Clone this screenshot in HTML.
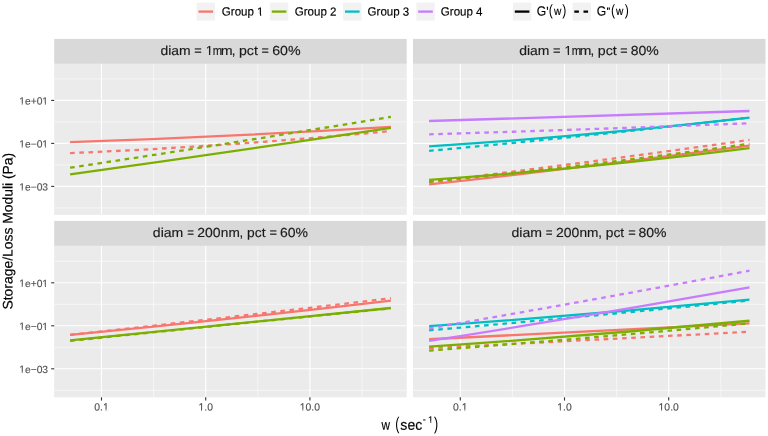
<!DOCTYPE html>
<html><head><meta charset="utf-8"><style>
html,body{margin:0;padding:0;background:#fff;width:768px;height:436px;overflow:hidden}
svg{display:block}
#wrap{will-change:transform;width:768px;height:436px;filter:blur(0.3px)}
text{font-family:"Liberation Sans", sans-serif}
</style></head><body><div id="wrap">
<svg width="768" height="436" viewBox="0 0 768 436" font-family='"Liberation Sans", sans-serif'>
<rect width="768" height="436" fill="#FFFFFF"/>
<rect x="196.6" y="2.6" width="18.4" height="18.0" fill="#F2F2F2"/>
<line x1="198.5" y1="11.6" x2="213.1" y2="11.6" stroke="#F8766D" stroke-width="2.3"/>
<clipPath id="c1_1" clipPathUnits="userSpaceOnUse"><rect x="-5.00" y="-24.00" width="53.36" height="22.40"/><rect x="-5.00" y="-24.00" width="41.57" height="36.00"/><rect x="43.29" y="-24.00" width="5.07" height="36.00"/><rect x="39.63" y="-24.00" width="1.21" height="36.00"/></clipPath>
<text transform="translate(221.82,15.60) rotate(0.05) scale(0.9640,1)" font-size="12.0" fill="#000" stroke="#000" stroke-width="0.15" clip-path="url(#c1_1)">Group 1</text>
<rect x="269.9" y="2.6" width="18.4" height="18.0" fill="#F2F2F2"/>
<line x1="271.79999999999995" y1="11.6" x2="286.4" y2="11.6" stroke="#7CAE00" stroke-width="2.3"/>
<text transform="translate(294.72,15.60) rotate(0.05) scale(0.9640,1)" font-size="12.0" fill="#000" stroke="#000" stroke-width="0.15">Group 2</text>
<rect x="343.1" y="2.6" width="18.4" height="18.0" fill="#F2F2F2"/>
<line x1="345.0" y1="11.6" x2="359.6" y2="11.6" stroke="#00BFC4" stroke-width="2.3"/>
<text transform="translate(367.57,15.60) rotate(0.05) scale(0.9640,1)" font-size="12.0" fill="#000" stroke="#000" stroke-width="0.15">Group 3</text>
<rect x="416.3" y="2.6" width="18.4" height="18.0" fill="#F2F2F2"/>
<line x1="418.2" y1="11.6" x2="432.8" y2="11.6" stroke="#C77CFF" stroke-width="2.3"/>
<text transform="translate(440.82,15.60) rotate(0.05) scale(0.9640,1)" font-size="12.0" fill="#000" stroke="#000" stroke-width="0.15">Group 4</text>
<rect x="512.9" y="2.6" width="18.4" height="18.0" fill="#F2F2F2"/>
<line x1="514.8" y1="11.6" x2="529.4" y2="11.6" stroke="#000" stroke-width="2.3"/>
<rect x="572.6" y="2.6" width="18.4" height="18.0" fill="#F2F2F2"/>
<line x1="574.3" y1="11.6" x2="588.9" y2="11.6" stroke="#000" stroke-width="2.3" stroke-dasharray="4.6 4.6"/>
<text transform="translate(536.69,15.45) rotate(0.05) scale(0.9200,1)" font-size="13.2" fill="#000" stroke="#000" stroke-width="0.15">G</text>
<text transform="translate(596.69,15.45) rotate(0.05) scale(0.9200,1)" font-size="13.2" fill="#000" stroke="#000" stroke-width="0.15">G</text>
<path d="M546.75,6.7 L548.15,6.7 L547.85,10.1 L547.05,10.1 Z" fill="#000"/>
<path d="M606.95,7.5 L608.2,7.5 L608.0,10.0 L607.15,10.0 Z M608.65,7.5 L609.9,7.5 L609.7,10.0 L608.85,10.0 Z" fill="#000"/>
<text transform="translate(548.87,15.27) rotate(0.05) scale(0.8000,1)" font-size="15.3" fill="#000" stroke="#000" stroke-width="0">(</text>
<text transform="translate(554.00,15.10) rotate(0.05) scale(0.8600,1)" font-size="11.8" fill="#000" stroke="#000" stroke-width="0.15">w</text>
<text transform="translate(562.18,15.27) rotate(0.05) scale(0.8000,1)" font-size="15.3" fill="#000" stroke="#000" stroke-width="0">)</text>
<text transform="translate(611.07,15.27) rotate(0.05) scale(0.8000,1)" font-size="15.3" fill="#000" stroke="#000" stroke-width="0">(</text>
<text transform="translate(616.00,15.10) rotate(0.05) scale(0.8600,1)" font-size="11.8" fill="#000" stroke="#000" stroke-width="0.15">w</text>
<text transform="translate(624.78,15.27) rotate(0.05) scale(0.8000,1)" font-size="15.3" fill="#000" stroke="#000" stroke-width="0">)</text>
<rect x="54.2" y="38.9" width="352.5" height="24.95" fill="#D9D9D9"/>
<text transform="translate(160.41,55.00) rotate(0.05) scale(1.0637,1)" font-size="13.1" fill="#1A1A1A" stroke="#1A1A1A" stroke-width="0.15">diam</text>
<text transform="translate(194.28,55.00) rotate(0.05) scale(0.9742,1)" font-size="13.1" fill="#1A1A1A" stroke="#1A1A1A" stroke-width="0.15">=</text>
<clipPath id="c1_2" clipPathUnits="userSpaceOnUse"><rect x="-5.00" y="-26.20" width="17.29" height="24.52"/><rect x="-5.00" y="-26.20" width="4.87" height="39.30"/><rect x="7.21" y="-26.20" width="5.08" height="39.30"/><rect x="3.21" y="-26.20" width="1.32" height="39.30"/></clipPath>
<text transform="translate(205.75,55.00) rotate(0.05) scale(1.0000,1)" font-size="13.1" fill="#1A1A1A" stroke="#1A1A1A" stroke-width="0.15" clip-path="url(#c1_2)">1</text>
<text transform="translate(212.86,55.00) rotate(0.05) scale(0.8498,1)" font-size="13.1" fill="#1A1A1A" stroke="#1A1A1A" stroke-width="0.15">m</text>
<text transform="translate(220.80,55.00) rotate(0.05) scale(1.0894,1)" font-size="13.1" fill="#1A1A1A" stroke="#1A1A1A" stroke-width="0.15">m</text>
<text transform="translate(231.82,55.00) rotate(0.05) scale(1.0000,1)" font-size="13.1" fill="#1A1A1A" stroke="#1A1A1A" stroke-width="0.15">,</text>
<text transform="translate(238.99,55.00) rotate(0.05) scale(1.0826,1)" font-size="13.1" fill="#1A1A1A" stroke="#1A1A1A" stroke-width="0.15">pct</text>
<text transform="translate(261.39,55.00) rotate(0.05) scale(0.9584,1)" font-size="13.1" fill="#1A1A1A" stroke="#1A1A1A" stroke-width="0.15">=</text>
<text transform="translate(272.18,55.00) rotate(0.05) scale(1.0842,1)" font-size="13.1" fill="#1A1A1A" stroke="#1A1A1A" stroke-width="0.15">60%</text>
<rect x="54.2" y="63.85" width="352.5" height="151.0" fill="#EBEBEB"/>
<svg x="54.2" y="63.85" width="352.5" height="151.0" overflow="hidden"><g transform="translate(-54.2,-63.85)">
<line x1="54.2" y1="78.90" x2="406.7" y2="78.90" stroke="#FFFFFF" stroke-width="0.55"/>
<line x1="54.2" y1="121.90" x2="406.7" y2="121.90" stroke="#FFFFFF" stroke-width="0.55"/>
<line x1="54.2" y1="164.90" x2="406.7" y2="164.90" stroke="#FFFFFF" stroke-width="0.55"/>
<line x1="54.2" y1="207.90" x2="406.7" y2="207.90" stroke="#FFFFFF" stroke-width="0.55"/>
<line x1="49.40" y1="63.85" x2="49.40" y2="214.85" stroke="#FFFFFF" stroke-width="0.55"/>
<line x1="153.60" y1="63.85" x2="153.60" y2="214.85" stroke="#FFFFFF" stroke-width="0.55"/>
<line x1="257.80" y1="63.85" x2="257.80" y2="214.85" stroke="#FFFFFF" stroke-width="0.55"/>
<line x1="362.00" y1="63.85" x2="362.00" y2="214.85" stroke="#FFFFFF" stroke-width="0.55"/>
<line x1="54.2" y1="100.40" x2="406.7" y2="100.40" stroke="#FFFFFF" stroke-width="1.1"/>
<line x1="54.2" y1="143.40" x2="406.7" y2="143.40" stroke="#FFFFFF" stroke-width="1.1"/>
<line x1="54.2" y1="186.40" x2="406.7" y2="186.40" stroke="#FFFFFF" stroke-width="1.1"/>
<line x1="101.50" y1="63.85" x2="101.50" y2="214.85" stroke="#FFFFFF" stroke-width="1.1"/>
<line x1="205.70" y1="63.85" x2="205.70" y2="214.85" stroke="#FFFFFF" stroke-width="1.1"/>
<line x1="309.90" y1="63.85" x2="309.90" y2="214.85" stroke="#FFFFFF" stroke-width="1.1"/>
<path d="M70.10,142.18 Q230.50,136.65 390.90,126.94" fill="none" stroke="#F8766D" stroke-width="2.3"/>
<path d="M70.10,153.09 Q230.50,146.33 390.90,130.98" fill="none" stroke="#F8766D" stroke-width="2.3" stroke-dasharray="4.6 4.6"/>
<path d="M70.10,174.39 Q230.50,151.92 390.90,127.81" fill="none" stroke="#7CAE00" stroke-width="2.3"/>
<path d="M70.10,167.71 Q230.50,143.57 390.90,116.79" fill="none" stroke="#7CAE00" stroke-width="2.3" stroke-dasharray="4.6 4.6"/>
</g></svg>
<rect x="413.0" y="38.9" width="352.5" height="24.95" fill="#D9D9D9"/>
<text transform="translate(519.21,55.00) rotate(0.05) scale(1.0637,1)" font-size="13.1" fill="#1A1A1A" stroke="#1A1A1A" stroke-width="0.15">diam</text>
<text transform="translate(553.08,55.00) rotate(0.05) scale(0.9742,1)" font-size="13.1" fill="#1A1A1A" stroke="#1A1A1A" stroke-width="0.15">=</text>
<clipPath id="c1_3" clipPathUnits="userSpaceOnUse"><rect x="-5.00" y="-26.20" width="17.29" height="24.52"/><rect x="-5.00" y="-26.20" width="4.87" height="39.30"/><rect x="7.21" y="-26.20" width="5.08" height="39.30"/><rect x="3.21" y="-26.20" width="1.32" height="39.30"/></clipPath>
<text transform="translate(564.55,55.00) rotate(0.05) scale(1.0000,1)" font-size="13.1" fill="#1A1A1A" stroke="#1A1A1A" stroke-width="0.15" clip-path="url(#c1_3)">1</text>
<text transform="translate(571.66,55.00) rotate(0.05) scale(0.8498,1)" font-size="13.1" fill="#1A1A1A" stroke="#1A1A1A" stroke-width="0.15">m</text>
<text transform="translate(579.60,55.00) rotate(0.05) scale(1.0894,1)" font-size="13.1" fill="#1A1A1A" stroke="#1A1A1A" stroke-width="0.15">m</text>
<text transform="translate(590.62,55.00) rotate(0.05) scale(1.0000,1)" font-size="13.1" fill="#1A1A1A" stroke="#1A1A1A" stroke-width="0.15">,</text>
<text transform="translate(597.79,55.00) rotate(0.05) scale(1.0826,1)" font-size="13.1" fill="#1A1A1A" stroke="#1A1A1A" stroke-width="0.15">pct</text>
<text transform="translate(620.19,55.00) rotate(0.05) scale(0.9584,1)" font-size="13.1" fill="#1A1A1A" stroke="#1A1A1A" stroke-width="0.15">=</text>
<text transform="translate(630.64,55.00) rotate(0.05) scale(1.0722,1)" font-size="13.1" fill="#1A1A1A" stroke="#1A1A1A" stroke-width="0.15">80%</text>
<rect x="413.0" y="63.85" width="352.5" height="151.0" fill="#EBEBEB"/>
<svg x="413.0" y="63.85" width="352.5" height="151.0" overflow="hidden"><g transform="translate(-413.0,-63.85)">
<line x1="413.0" y1="78.90" x2="765.5" y2="78.90" stroke="#FFFFFF" stroke-width="0.55"/>
<line x1="413.0" y1="121.90" x2="765.5" y2="121.90" stroke="#FFFFFF" stroke-width="0.55"/>
<line x1="413.0" y1="164.90" x2="765.5" y2="164.90" stroke="#FFFFFF" stroke-width="0.55"/>
<line x1="413.0" y1="207.90" x2="765.5" y2="207.90" stroke="#FFFFFF" stroke-width="0.55"/>
<line x1="408.20" y1="63.85" x2="408.20" y2="214.85" stroke="#FFFFFF" stroke-width="0.55"/>
<line x1="512.40" y1="63.85" x2="512.40" y2="214.85" stroke="#FFFFFF" stroke-width="0.55"/>
<line x1="616.60" y1="63.85" x2="616.60" y2="214.85" stroke="#FFFFFF" stroke-width="0.55"/>
<line x1="720.80" y1="63.85" x2="720.80" y2="214.85" stroke="#FFFFFF" stroke-width="0.55"/>
<line x1="413.0" y1="100.40" x2="765.5" y2="100.40" stroke="#FFFFFF" stroke-width="1.1"/>
<line x1="413.0" y1="143.40" x2="765.5" y2="143.40" stroke="#FFFFFF" stroke-width="1.1"/>
<line x1="413.0" y1="186.40" x2="765.5" y2="186.40" stroke="#FFFFFF" stroke-width="1.1"/>
<line x1="460.30" y1="63.85" x2="460.30" y2="214.85" stroke="#FFFFFF" stroke-width="1.1"/>
<line x1="564.50" y1="63.85" x2="564.50" y2="214.85" stroke="#FFFFFF" stroke-width="1.1"/>
<line x1="668.70" y1="63.85" x2="668.70" y2="214.85" stroke="#FFFFFF" stroke-width="1.1"/>
<path d="M429.10,184.47 Q589.30,166.90 749.50,145.54" fill="none" stroke="#F8766D" stroke-width="2.3"/>
<path d="M429.10,182.04 Q589.30,162.45 749.50,139.92" fill="none" stroke="#F8766D" stroke-width="2.3" stroke-dasharray="4.6 4.6"/>
<path d="M429.10,179.84 Q589.30,168.57 749.50,148.15" fill="none" stroke="#7CAE00" stroke-width="2.3"/>
<path d="M429.10,181.88 Q589.30,165.93 749.50,143.79" fill="none" stroke="#7CAE00" stroke-width="2.3" stroke-dasharray="4.6 4.6"/>
<path d="M429.10,146.33 Q589.30,136.17 749.50,117.66" fill="none" stroke="#00BFC4" stroke-width="2.3"/>
<path d="M429.10,150.85 Q589.30,136.19 749.50,117.56" fill="none" stroke="#00BFC4" stroke-width="2.3" stroke-dasharray="4.6 4.6"/>
<path d="M429.10,121.00 Q589.30,116.47 749.50,111.02" fill="none" stroke="#C77CFF" stroke-width="2.3"/>
<path d="M429.10,134.33 Q589.30,129.51 749.50,123.26" fill="none" stroke="#C77CFF" stroke-width="2.3" stroke-dasharray="4.6 4.6"/>
</g></svg>
<rect x="54.2" y="220.9" width="352.5" height="24.95" fill="#D9D9D9"/>
<text transform="translate(152.81,237.00) rotate(0.05) scale(1.0749,1)" font-size="13.1" fill="#1A1A1A" stroke="#1A1A1A" stroke-width="0.15">diam</text>
<text transform="translate(187.14,237.00) rotate(0.05) scale(0.8799,1)" font-size="13.1" fill="#1A1A1A" stroke="#1A1A1A" stroke-width="0.15">=</text>
<text transform="translate(197.20,237.00) rotate(0.05) scale(1.0683,1)" font-size="13.1" fill="#1A1A1A" stroke="#1A1A1A" stroke-width="0.15">200</text>
<text transform="translate(220.84,237.00) rotate(0.05) scale(1.0416,1)" font-size="13.1" fill="#1A1A1A" stroke="#1A1A1A" stroke-width="0.15">nm</text>
<text transform="translate(239.62,237.00) rotate(0.05) scale(1.0000,1)" font-size="13.1" fill="#1A1A1A" stroke="#1A1A1A" stroke-width="0.15">,</text>
<text transform="translate(247.11,237.00) rotate(0.05) scale(1.0523,1)" font-size="13.1" fill="#1A1A1A" stroke="#1A1A1A" stroke-width="0.15">pct</text>
<text transform="translate(269.48,237.00) rotate(0.05) scale(0.9742,1)" font-size="13.1" fill="#1A1A1A" stroke="#1A1A1A" stroke-width="0.15">=</text>
<text transform="translate(279.99,237.00) rotate(0.05) scale(1.0683,1)" font-size="13.1" fill="#1A1A1A" stroke="#1A1A1A" stroke-width="0.15">60%</text>
<rect x="54.2" y="246.0" width="352.5" height="151.3" fill="#EBEBEB"/>
<svg x="54.2" y="246.0" width="352.5" height="151.3" overflow="hidden"><g transform="translate(-54.2,-246.0)">
<line x1="54.2" y1="261.30" x2="406.7" y2="261.30" stroke="#FFFFFF" stroke-width="0.55"/>
<line x1="54.2" y1="304.30" x2="406.7" y2="304.30" stroke="#FFFFFF" stroke-width="0.55"/>
<line x1="54.2" y1="347.30" x2="406.7" y2="347.30" stroke="#FFFFFF" stroke-width="0.55"/>
<line x1="54.2" y1="390.30" x2="406.7" y2="390.30" stroke="#FFFFFF" stroke-width="0.55"/>
<line x1="49.40" y1="246.0" x2="49.40" y2="397.3" stroke="#FFFFFF" stroke-width="0.55"/>
<line x1="153.60" y1="246.0" x2="153.60" y2="397.3" stroke="#FFFFFF" stroke-width="0.55"/>
<line x1="257.80" y1="246.0" x2="257.80" y2="397.3" stroke="#FFFFFF" stroke-width="0.55"/>
<line x1="362.00" y1="246.0" x2="362.00" y2="397.3" stroke="#FFFFFF" stroke-width="0.55"/>
<line x1="54.2" y1="282.80" x2="406.7" y2="282.80" stroke="#FFFFFF" stroke-width="1.1"/>
<line x1="54.2" y1="325.80" x2="406.7" y2="325.80" stroke="#FFFFFF" stroke-width="1.1"/>
<line x1="54.2" y1="368.80" x2="406.7" y2="368.80" stroke="#FFFFFF" stroke-width="1.1"/>
<line x1="101.50" y1="246.0" x2="101.50" y2="397.3" stroke="#FFFFFF" stroke-width="1.1"/>
<line x1="205.70" y1="246.0" x2="205.70" y2="397.3" stroke="#FFFFFF" stroke-width="1.1"/>
<line x1="309.90" y1="246.0" x2="309.90" y2="397.3" stroke="#FFFFFF" stroke-width="1.1"/>
<path d="M70.10,334.89 Q230.50,319.47 390.90,300.54" fill="none" stroke="#F8766D" stroke-width="2.3"/>
<path d="M70.10,334.93 Q230.50,317.34 390.90,298.26" fill="none" stroke="#F8766D" stroke-width="2.3" stroke-dasharray="4.6 4.6"/>
<path d="M70.10,340.43 Q230.50,323.81 390.90,307.99" fill="none" stroke="#7CAE00" stroke-width="2.3"/>
<path d="M70.10,340.91 Q230.50,324.26 390.90,308.30" fill="none" stroke="#7CAE00" stroke-width="2.3" stroke-dasharray="4.6 4.6"/>
</g></svg>
<rect x="413.0" y="220.9" width="352.5" height="24.95" fill="#D9D9D9"/>
<text transform="translate(511.51,237.00) rotate(0.05) scale(1.0749,1)" font-size="13.1" fill="#1A1A1A" stroke="#1A1A1A" stroke-width="0.15">diam</text>
<text transform="translate(545.84,237.00) rotate(0.05) scale(0.8799,1)" font-size="13.1" fill="#1A1A1A" stroke="#1A1A1A" stroke-width="0.15">=</text>
<text transform="translate(555.90,237.00) rotate(0.05) scale(1.0683,1)" font-size="13.1" fill="#1A1A1A" stroke="#1A1A1A" stroke-width="0.15">200</text>
<text transform="translate(579.54,237.00) rotate(0.05) scale(1.0416,1)" font-size="13.1" fill="#1A1A1A" stroke="#1A1A1A" stroke-width="0.15">nm</text>
<text transform="translate(598.32,237.00) rotate(0.05) scale(1.0000,1)" font-size="13.1" fill="#1A1A1A" stroke="#1A1A1A" stroke-width="0.15">,</text>
<text transform="translate(605.81,237.00) rotate(0.05) scale(1.0523,1)" font-size="13.1" fill="#1A1A1A" stroke="#1A1A1A" stroke-width="0.15">pct</text>
<text transform="translate(628.18,237.00) rotate(0.05) scale(0.9742,1)" font-size="13.1" fill="#1A1A1A" stroke="#1A1A1A" stroke-width="0.15">=</text>
<text transform="translate(638.49,237.00) rotate(0.05) scale(1.0722,1)" font-size="13.1" fill="#1A1A1A" stroke="#1A1A1A" stroke-width="0.15">80%</text>
<rect x="413.0" y="246.0" width="352.5" height="151.3" fill="#EBEBEB"/>
<svg x="413.0" y="246.0" width="352.5" height="151.3" overflow="hidden"><g transform="translate(-413.0,-246.0)">
<line x1="413.0" y1="261.30" x2="765.5" y2="261.30" stroke="#FFFFFF" stroke-width="0.55"/>
<line x1="413.0" y1="304.30" x2="765.5" y2="304.30" stroke="#FFFFFF" stroke-width="0.55"/>
<line x1="413.0" y1="347.30" x2="765.5" y2="347.30" stroke="#FFFFFF" stroke-width="0.55"/>
<line x1="413.0" y1="390.30" x2="765.5" y2="390.30" stroke="#FFFFFF" stroke-width="0.55"/>
<line x1="408.20" y1="246.0" x2="408.20" y2="397.3" stroke="#FFFFFF" stroke-width="0.55"/>
<line x1="512.40" y1="246.0" x2="512.40" y2="397.3" stroke="#FFFFFF" stroke-width="0.55"/>
<line x1="616.60" y1="246.0" x2="616.60" y2="397.3" stroke="#FFFFFF" stroke-width="0.55"/>
<line x1="720.80" y1="246.0" x2="720.80" y2="397.3" stroke="#FFFFFF" stroke-width="0.55"/>
<line x1="413.0" y1="282.80" x2="765.5" y2="282.80" stroke="#FFFFFF" stroke-width="1.1"/>
<line x1="413.0" y1="325.80" x2="765.5" y2="325.80" stroke="#FFFFFF" stroke-width="1.1"/>
<line x1="413.0" y1="368.80" x2="765.5" y2="368.80" stroke="#FFFFFF" stroke-width="1.1"/>
<line x1="460.30" y1="246.0" x2="460.30" y2="397.3" stroke="#FFFFFF" stroke-width="1.1"/>
<line x1="564.50" y1="246.0" x2="564.50" y2="397.3" stroke="#FFFFFF" stroke-width="1.1"/>
<line x1="668.70" y1="246.0" x2="668.70" y2="397.3" stroke="#FFFFFF" stroke-width="1.1"/>
<path d="M429.10,339.24 Q589.30,331.62 749.50,323.39" fill="none" stroke="#F8766D" stroke-width="2.3"/>
<path d="M429.10,348.10 Q589.30,340.03 749.50,331.76" fill="none" stroke="#F8766D" stroke-width="2.3" stroke-dasharray="4.6 4.6"/>
<path d="M429.10,346.68 Q589.30,335.83 749.50,320.75" fill="none" stroke="#7CAE00" stroke-width="2.3"/>
<path d="M429.10,350.59 Q589.30,338.32 749.50,323.34" fill="none" stroke="#7CAE00" stroke-width="2.3" stroke-dasharray="4.6 4.6"/>
<path d="M429.10,326.17 Q589.30,314.65 749.50,299.60" fill="none" stroke="#00BFC4" stroke-width="2.3"/>
<path d="M429.10,330.35 Q589.30,316.44 749.50,300.47" fill="none" stroke="#00BFC4" stroke-width="2.3" stroke-dasharray="4.6 4.6"/>
<path d="M429.10,340.98 Q589.30,315.84 749.50,287.28" fill="none" stroke="#C77CFF" stroke-width="2.3"/>
<path d="M429.10,328.42 Q589.30,300.76 749.50,270.71" fill="none" stroke="#C77CFF" stroke-width="2.3" stroke-dasharray="4.6 4.6"/>
</g></svg>
<line x1="51.2" y1="100.40" x2="54.2" y2="100.40" stroke="#333333" stroke-width="1.1"/>
<clipPath id="c1_4" clipPathUnits="userSpaceOnUse"><rect x="-33.93" y="-20.60" width="38.93" height="19.13"/><rect x="-33.93" y="-20.60" width="4.90" height="30.90"/><rect x="-23.26" y="-20.60" width="17.43" height="30.90"/><rect x="-0.06" y="-20.60" width="5.06" height="30.90"/><rect x="-26.41" y="-20.60" width="1.04" height="30.90"/><rect x="-3.20" y="-20.60" width="1.04" height="30.90"/></clipPath>
<text transform="translate(48.10,104.50) rotate(0.05) scale(1.0000,1)" font-size="10.3" fill="#4D4D4D" stroke="#4D4D4D" stroke-width="0.12" text-anchor="end" clip-path="url(#c1_4)">1e+01</text>
<line x1="51.2" y1="143.40" x2="54.2" y2="143.40" stroke="#333333" stroke-width="1.1"/>
<clipPath id="c1_5" clipPathUnits="userSpaceOnUse"><rect x="-33.93" y="-20.60" width="38.93" height="19.13"/><rect x="-33.93" y="-20.60" width="4.90" height="30.90"/><rect x="-23.26" y="-20.60" width="17.43" height="30.90"/><rect x="-0.06" y="-20.60" width="5.06" height="30.90"/><rect x="-26.41" y="-20.60" width="1.04" height="30.90"/><rect x="-3.20" y="-20.60" width="1.04" height="30.90"/></clipPath>
<text transform="translate(48.10,147.50) rotate(0.05) scale(1.0000,1)" font-size="10.3" fill="#4D4D4D" stroke="#4D4D4D" stroke-width="0.12" text-anchor="end" clip-path="url(#c1_5)">1e−01</text>
<line x1="51.2" y1="186.40" x2="54.2" y2="186.40" stroke="#333333" stroke-width="1.1"/>
<clipPath id="c1_6" clipPathUnits="userSpaceOnUse"><rect x="-33.93" y="-20.60" width="38.93" height="19.13"/><rect x="-33.93" y="-20.60" width="4.90" height="30.90"/><rect x="-23.26" y="-20.60" width="28.26" height="30.90"/><rect x="-26.41" y="-20.60" width="1.04" height="30.90"/></clipPath>
<text transform="translate(48.10,190.50) rotate(0.05) scale(1.0000,1)" font-size="10.3" fill="#4D4D4D" stroke="#4D4D4D" stroke-width="0.12" text-anchor="end" clip-path="url(#c1_6)">1e−03</text>
<line x1="51.2" y1="282.80" x2="54.2" y2="282.80" stroke="#333333" stroke-width="1.1"/>
<clipPath id="c1_7" clipPathUnits="userSpaceOnUse"><rect x="-33.93" y="-20.60" width="38.93" height="19.13"/><rect x="-33.93" y="-20.60" width="4.90" height="30.90"/><rect x="-23.26" y="-20.60" width="17.43" height="30.90"/><rect x="-0.06" y="-20.60" width="5.06" height="30.90"/><rect x="-26.41" y="-20.60" width="1.04" height="30.90"/><rect x="-3.20" y="-20.60" width="1.04" height="30.90"/></clipPath>
<text transform="translate(48.10,286.90) rotate(0.05) scale(1.0000,1)" font-size="10.3" fill="#4D4D4D" stroke="#4D4D4D" stroke-width="0.12" text-anchor="end" clip-path="url(#c1_7)">1e+01</text>
<line x1="51.2" y1="325.80" x2="54.2" y2="325.80" stroke="#333333" stroke-width="1.1"/>
<clipPath id="c1_8" clipPathUnits="userSpaceOnUse"><rect x="-33.93" y="-20.60" width="38.93" height="19.13"/><rect x="-33.93" y="-20.60" width="4.90" height="30.90"/><rect x="-23.26" y="-20.60" width="17.43" height="30.90"/><rect x="-0.06" y="-20.60" width="5.06" height="30.90"/><rect x="-26.41" y="-20.60" width="1.04" height="30.90"/><rect x="-3.20" y="-20.60" width="1.04" height="30.90"/></clipPath>
<text transform="translate(48.10,329.90) rotate(0.05) scale(1.0000,1)" font-size="10.3" fill="#4D4D4D" stroke="#4D4D4D" stroke-width="0.12" text-anchor="end" clip-path="url(#c1_8)">1e−01</text>
<line x1="51.2" y1="368.80" x2="54.2" y2="368.80" stroke="#333333" stroke-width="1.1"/>
<clipPath id="c1_9" clipPathUnits="userSpaceOnUse"><rect x="-33.93" y="-20.60" width="38.93" height="19.13"/><rect x="-33.93" y="-20.60" width="4.90" height="30.90"/><rect x="-23.26" y="-20.60" width="28.26" height="30.90"/><rect x="-26.41" y="-20.60" width="1.04" height="30.90"/></clipPath>
<text transform="translate(48.10,372.90) rotate(0.05) scale(1.0000,1)" font-size="10.3" fill="#4D4D4D" stroke="#4D4D4D" stroke-width="0.12" text-anchor="end" clip-path="url(#c1_9)">1e−03</text>
<line x1="101.50" y1="397.3" x2="101.50" y2="400.6" stroke="#333333" stroke-width="1.1"/>
<clipPath id="c1_10" clipPathUnits="userSpaceOnUse"><rect x="-12.23" y="-20.80" width="24.46" height="19.32"/><rect x="-12.23" y="-20.80" width="13.57" height="31.20"/><rect x="7.16" y="-20.80" width="5.06" height="31.20"/><rect x="3.99" y="-20.80" width="1.05" height="31.20"/></clipPath>
<text transform="translate(101.50,410.60) rotate(0.05) scale(1.0000,1)" font-size="10.4" fill="#4D4D4D" stroke="#4D4D4D" stroke-width="0.12" text-anchor="middle" clip-path="url(#c1_10)">0.1</text>
<line x1="205.70" y1="397.3" x2="205.70" y2="400.6" stroke="#333333" stroke-width="1.1"/>
<clipPath id="c1_11" clipPathUnits="userSpaceOnUse"><rect x="-12.23" y="-20.80" width="24.46" height="19.32"/><rect x="-12.23" y="-20.80" width="4.90" height="31.20"/><rect x="-1.51" y="-20.80" width="13.74" height="31.20"/><rect x="-4.68" y="-20.80" width="1.05" height="31.20"/></clipPath>
<text transform="translate(205.70,410.60) rotate(0.05) scale(1.0000,1)" font-size="10.4" fill="#4D4D4D" stroke="#4D4D4D" stroke-width="0.12" text-anchor="middle" clip-path="url(#c1_11)">1.0</text>
<line x1="309.90" y1="397.3" x2="309.90" y2="400.6" stroke="#333333" stroke-width="1.1"/>
<clipPath id="c1_12" clipPathUnits="userSpaceOnUse"><rect x="-15.12" y="-20.80" width="30.24" height="19.32"/><rect x="-15.12" y="-20.80" width="4.90" height="31.20"/><rect x="-4.40" y="-20.80" width="19.52" height="31.20"/><rect x="-7.57" y="-20.80" width="1.05" height="31.20"/></clipPath>
<text transform="translate(309.90,410.60) rotate(0.05) scale(1.0000,1)" font-size="10.4" fill="#4D4D4D" stroke="#4D4D4D" stroke-width="0.12" text-anchor="middle" clip-path="url(#c1_12)">10.0</text>
<line x1="460.30" y1="397.3" x2="460.30" y2="400.6" stroke="#333333" stroke-width="1.1"/>
<clipPath id="c1_13" clipPathUnits="userSpaceOnUse"><rect x="-12.23" y="-20.80" width="24.46" height="19.32"/><rect x="-12.23" y="-20.80" width="13.57" height="31.20"/><rect x="7.16" y="-20.80" width="5.06" height="31.20"/><rect x="3.99" y="-20.80" width="1.05" height="31.20"/></clipPath>
<text transform="translate(460.30,410.60) rotate(0.05) scale(1.0000,1)" font-size="10.4" fill="#4D4D4D" stroke="#4D4D4D" stroke-width="0.12" text-anchor="middle" clip-path="url(#c1_13)">0.1</text>
<line x1="564.50" y1="397.3" x2="564.50" y2="400.6" stroke="#333333" stroke-width="1.1"/>
<clipPath id="c1_14" clipPathUnits="userSpaceOnUse"><rect x="-12.23" y="-20.80" width="24.46" height="19.32"/><rect x="-12.23" y="-20.80" width="4.90" height="31.20"/><rect x="-1.51" y="-20.80" width="13.74" height="31.20"/><rect x="-4.68" y="-20.80" width="1.05" height="31.20"/></clipPath>
<text transform="translate(564.50,410.60) rotate(0.05) scale(1.0000,1)" font-size="10.4" fill="#4D4D4D" stroke="#4D4D4D" stroke-width="0.12" text-anchor="middle" clip-path="url(#c1_14)">1.0</text>
<line x1="668.70" y1="397.3" x2="668.70" y2="400.6" stroke="#333333" stroke-width="1.1"/>
<clipPath id="c1_15" clipPathUnits="userSpaceOnUse"><rect x="-15.12" y="-20.80" width="30.24" height="19.32"/><rect x="-15.12" y="-20.80" width="4.90" height="31.20"/><rect x="-4.40" y="-20.80" width="19.52" height="31.20"/><rect x="-7.57" y="-20.80" width="1.05" height="31.20"/></clipPath>
<text transform="translate(668.70,410.60) rotate(0.05) scale(1.0000,1)" font-size="10.4" fill="#4D4D4D" stroke="#4D4D4D" stroke-width="0.12" text-anchor="middle" clip-path="url(#c1_15)">10.0</text>
<text transform="translate(381.50,429.70) rotate(0.05) scale(0.8200,1)" font-size="14.4" fill="#000" stroke="#000" stroke-width="0.15">w</text>
<text transform="translate(395.33,429.50) rotate(0.05) scale(0.7000,1)" font-size="17.7" fill="#000" stroke="#000" stroke-width="0">(</text>
<text transform="translate(400.33,429.70) rotate(0.05) scale(0.9660,1)" font-size="14.6" fill="#000" stroke="#000" stroke-width="0.15">sec</text>
<text transform="translate(422.80,422.15) rotate(0.05) scale(1.0000,1)" font-size="9.2" fill="#000" stroke="#000" stroke-width="0.15">-</text>
<clipPath id="c1_16" clipPathUnits="userSpaceOnUse"><rect x="-5.00" y="-18.40" width="15.12" height="17.01"/><rect x="-5.00" y="-18.40" width="4.91" height="27.60"/><rect x="5.06" y="-18.40" width="5.06" height="27.60"/><rect x="2.25" y="-18.40" width="0.93" height="27.60"/></clipPath>
<text transform="translate(428.07,422.70) rotate(0.05) scale(1.0000,1)" font-size="9.2" fill="#000" stroke="#000" stroke-width="0.15" clip-path="url(#c1_16)">1</text>
<text transform="translate(433.93,429.75) rotate(0.05) scale(0.6900,1)" font-size="18.0" fill="#000" stroke="#000" stroke-width="0">)</text>
<text transform="translate(12.5,231.15) rotate(-89.95)" text-anchor="middle" font-size="13.9" fill="#000" stroke="#000" stroke-width="0.15">Storage/Loss Moduli (Pa)</text>
</svg>
</div></body></html>
